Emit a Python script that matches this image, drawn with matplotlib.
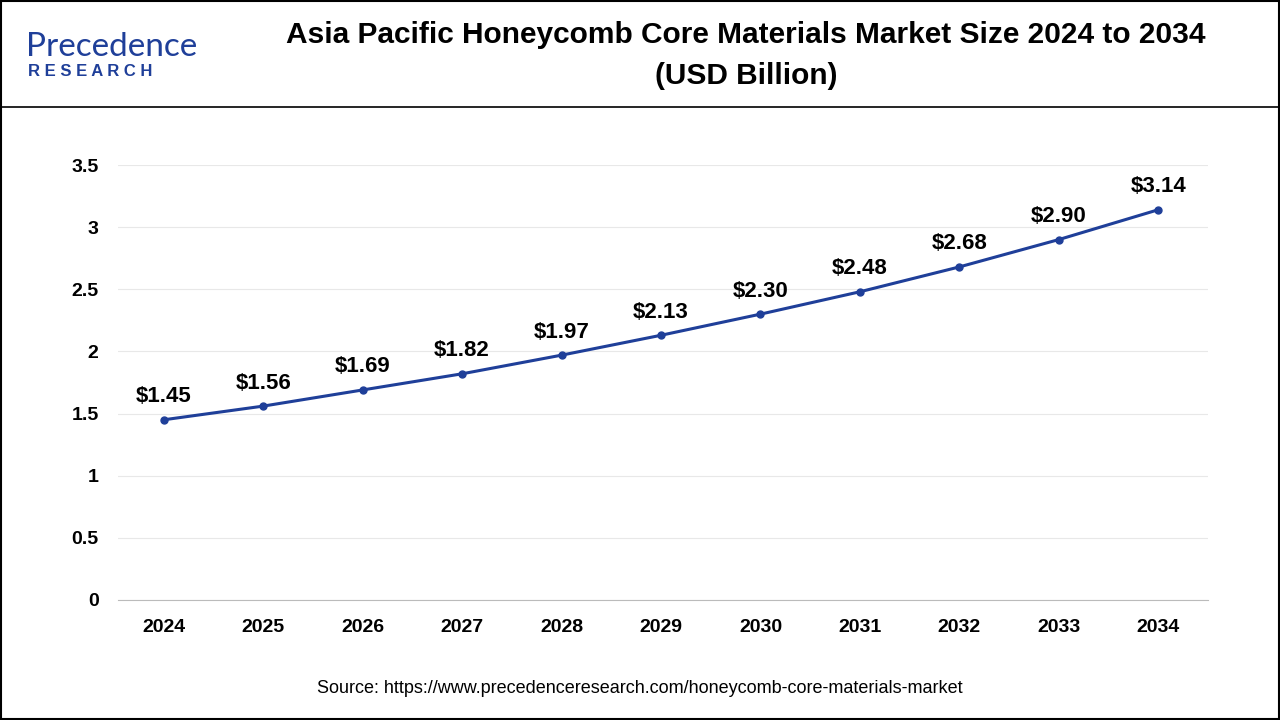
import matplotlib

matplotlib.use("Agg")

import matplotlib.pyplot as plt
from matplotlib.lines import Line2D

plt.rcParams["font.family"] = "Liberation Sans"

YEARS = [2024, 2025, 2026, 2027, 2028, 2029, 2030, 2031, 2032, 2033, 2034]
VALUES = [1.45, 1.56, 1.69, 1.82, 1.97, 2.13, 2.30, 2.48, 2.68, 2.90, 3.14]
Y_TICKS = [0, 0.5, 1, 1.5, 2, 2.5, 3, 3.5]
Y_LABELS = ["0", "0.5", "1", "1.5", "2", "2.5", "3", "3.5"]

LINE_COLOR = "#1f3f99"

fig = plt.figure(figsize=(12.8, 7.2), dpi=100)
ax = fig.add_axes([118 / 1280, 1 - 600 / 720, 1090 / 1280, 435 / 720])

ax.plot(YEARS, VALUES, color=LINE_COLOR, linewidth=2.2, marker="o", markersize=5)
for x, v in zip(YEARS, VALUES):
    ax.annotate(f"${v:.2f}", (x, v), xytext=(0, 9), textcoords="offset points",
                ha="center", va="bottom", fontsize=16, fontweight="bold")

ax.set_xlim(2023.54, 2034.5)
ax.set_ylim(0, 3.5)
ax.set_xticks(YEARS)
ax.set_xticklabels([str(y) for y in YEARS])
ax.set_yticks(Y_TICKS)
ax.set_yticklabels(Y_LABELS)
ax.tick_params(axis="both", length=0, labelsize=14, pad=14)
for lab in ax.get_xticklabels() + ax.get_yticklabels():
    lab.set_fontweight("bold")
ax.grid(axis="y", color="#e8e8e8", linewidth=0.8)
ax.set_axisbelow(True)
for side in ["top", "right", "left"]:
    ax.spines[side].set_visible(False)
ax.spines["bottom"].set_color("#bbbbbb")

# header
fig.text(0.583, 0.952, "Asia Pacific Honeycomb Core Materials Market Size 2024 to 2034",
         ha="center", va="center", fontsize=21.5, fontweight="bold")
fig.text(0.583, 0.895, "(USD Billion)", ha="center", va="center", fontsize=21.5, fontweight="bold")
fig.text(0.02, 0.935, "Precedence", ha="left", va="center", fontsize=24, color="#1f3f99",
         family="Lato")
fig.text(0.022, 0.9, "R E S E A R C H", ha="left", va="center", fontsize=12, color="#1f3f99",
         fontweight="bold")
fig.add_artist(Line2D([0, 1], [1 - 107 / 720] * 2, color="black", linewidth=1.2))
fig.add_artist(plt.Rectangle((0.001, 0.001), 0.998, 0.998, fill=False, edgecolor="black",
                             linewidth=1.5, transform=fig.transFigure))

fig.text(0.5, 0.044, "Source: https://www.precedenceresearch.com/honeycomb-core-materials-market",
         ha="center", va="center", fontsize=13)

fig.savefig("out.png", dpi=100)
